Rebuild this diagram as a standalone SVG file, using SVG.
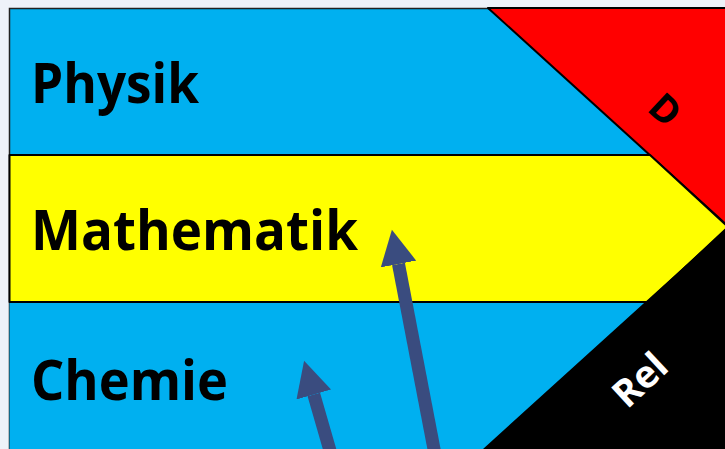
<svg xmlns="http://www.w3.org/2000/svg" width="725" height="449" viewBox="0 0 725 449">
<defs>
<style>
.lbl{font-family:"Open Sans","Liberation Sans",sans-serif;font-weight:700;fill:#000}
.edge{stroke:#000;stroke-width:2;stroke-linejoin:round}
.arrow{stroke:#3a4c7f;stroke-width:13;fill:none}
</style>
<marker id="head" markerUnits="userSpaceOnUse" markerWidth="36" markerHeight="36" viewBox="0 0 36 36" refX="0" refY="18" orient="auto">
<path d="M0,0 L35,18 L0,36 Z" fill="#3a4c7f"/>
</marker>
</defs>
<rect x="0" y="0" width="725" height="449" fill="#eef2f9"/>
<g id="physik">
<rect x="9.5" y="8.5" width="730" height="450" fill="#00b0f0" stroke="#222" stroke-width="1.5"/>
<text class="lbl" x="31" y="103" font-size="55" textLength="168" lengthAdjust="spacingAndGlyphs">Physik</text>
</g>
<g id="d">
<polygon class="edge" points="488,8 740,8 740,237" fill="#ff0000"/>
<text class="lbl" x="0" y="0" font-size="38" text-anchor="middle" transform="translate(665,110) rotate(43) translate(0,13)">D</text>
</g>
<g id="chemie">
<rect x="9.5" y="302" width="660" height="160" fill="#00b0f0"/>
<text class="lbl" x="31" y="400" font-size="55" textLength="197" lengthAdjust="spacingAndGlyphs">Chemie</text>
</g>
<g id="mathematik">
<polygon class="edge" points="9.5,155 650,155 728,227 648,302 9.5,302" fill="#ffff00"/>
<text class="lbl" x="31" y="250" font-size="55" textLength="327" lengthAdjust="spacingAndGlyphs">Mathematik</text>
</g>
<g id="rel">
<polygon points="483,449 728,227 740,227 740,460 470,460" fill="#000"/>
<text x="0" y="0" font-size="38" text-anchor="middle" font-family="Open Sans, Liberation Sans, sans-serif" font-weight="700" fill="#fff" transform="translate(640,380) rotate(-43) translate(0,13)">Rel</text>
</g>
<g id="connectors">
<line class="arrow" x1="436.1" y1="460" x2="398.5" y2="264" marker-end="url(#head)"/>
<line class="arrow" x1="332.7" y1="460" x2="313.8" y2="394.5" marker-end="url(#head)"/>
</g>
</svg>
